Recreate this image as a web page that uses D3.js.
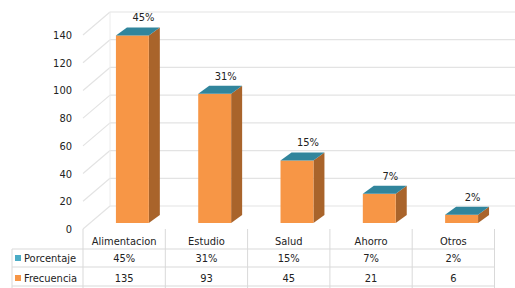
<!DOCTYPE html>
<html><head><meta charset="utf-8">
<script src="https://cdn.jsdelivr.net/npm/d3@7"></script>
<style>body{margin:0;background:#fff}svg{display:block}text{font-family:'Liberation Sans Narrow','DejaVu Sans Condensed',sans-serif;fill:#222}</style>
</head><body><svg id="c" width="515" height="288"></svg>
<script>
const categories = ["Alimentacion","Estudio","Salud","Ahorro","Otros"];
const frecuencia = [135,93,45,21,6];
const porcentaje = [45,31,15,7,2];
const yTicks = [0,20,40,60,80,100,120,140];
const seriesNames = ["Porcentaje","Frecuencia"];
const seriesColors = ["#4BACC6","#F79646"];

const svg = d3.select("#c");
const depthX = 27, depthY = 23;     // wall depth
const bdx = 11, bdy = 8;            // bar depth
const yBack = d3.scaleLinear().domain([0,140]).range([206,12]);
const yBar = d3.scaleLinear().domain([0,140]).range([223,28.5]);
const x = d3.scaleBand().domain(categories).range([83,494.5]).padding(0);
const bw = x.bandwidth();

// gridlines
const g = svg.append("g");
yTicks.forEach(v=>{
  const yb = yBack(v);
  g.append("line").attr("x1",83+depthX).attr("x2",515).attr("y1",yb).attr("y2",yb)
    .attr("stroke","#e3e3e3").attr("stroke-width",1.2);
  g.append("line").attr("x1",83).attr("y1",yb+depthY).attr("x2",83+depthX).attr("y2",yb)
    .attr("stroke","#e3e3e3").attr("stroke-width",1.2);
  svg.append("text").attr("x",72).attr("y",yb+depthY+4).attr("text-anchor","end")
    .attr("font-size",11).text(v);
});
g.append("line").attr("x1",110).attr("x2",110).attr("y1",yBack(140)).attr("y2",yBack(0)).attr("stroke","#ececec");

// bars
categories.forEach((c,i)=>{
  const l = x(c)+bw*0.4, w = bw*0.4, r = l+w;
  const t = yBar(frecuencia[i]), b = yBar(0);
  const bars = svg.append("g");
  bars.append("polygon").attr("points",[[r,t],[r+bdx,t-bdy],[r+bdx,b-bdy],[r,b]].join(" "))
    .attr("fill","#A9642B");
  bars.append("rect").attr("x",l).attr("y",t).attr("width",w).attr("height",b-t).attr("fill","#F79646");
  bars.append("polygon").attr("points",[[l,t],[r,t],[r+bdx,t-bdy],[l+bdx,t-bdy]].join(" "))
    .attr("fill","#31859C");
  svg.append("text").attr("x",l+w/2+bdx).attr("y",t-bdy-6).attr("text-anchor","middle")
    .attr("font-size",11).text(porcentaje[i]+"%");
});

// data table
const rows = [249,267,286];
const tl = svg.append("g").attr("stroke","#d9d9d9").attr("stroke-width",1);
rows.forEach(y=>tl.append("line").attr("x1",12).attr("x2",494.5).attr("y1",y).attr("y2",y));
tl.append("line").attr("x1",12).attr("x2",12).attr("y1",249).attr("y2",288);
categories.forEach(c=>tl.append("line").attr("x1",x(c)).attr("x2",x(c)).attr("y1",229).attr("y2",288));
tl.append("line").attr("x1",494.5).attr("x2",494.5).attr("y1",229).attr("y2",288);

categories.forEach((c,i)=>{
  const cx = x(c)+bw/2;
  svg.append("text").attr("x",cx).attr("y",245).attr("text-anchor","middle").attr("font-size",11).text(c);
  svg.append("text").attr("x",cx).attr("y",262).attr("text-anchor","middle").attr("font-size",11).text(porcentaje[i]+"%");
  svg.append("text").attr("x",cx).attr("y",282).attr("text-anchor","middle").attr("font-size",11).text(frecuencia[i]);
});
[262,282].forEach((y,k)=>{
  svg.append("rect").attr("x",15).attr("y",y-7).attr("width",6).attr("height",6).attr("fill",seriesColors[k]);
  svg.append("text").attr("x",24).attr("y",y).attr("font-size",11).text(seriesNames[k]);
});
</script></body></html>
